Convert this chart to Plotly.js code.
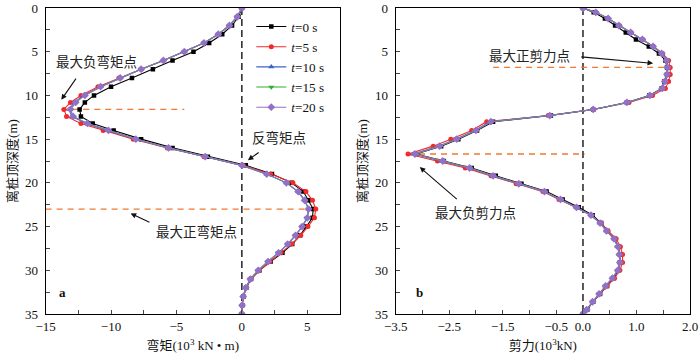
<!DOCTYPE html>
<html>
<head>
<meta charset="utf-8">
<script src="https://cdn.plot.ly/plotly-3.0.1.min.js"></script>
<style>html,body{margin:0;padding:0;background:#fff}#plot{width:700px;height:358px}</style>
</head>
<body>
<div id="plot"></div>
<script>
// panel a: bending moment (10^3 kN*m) along the pile
var depthA = [0, 1, 2, 3, 4, 5, 6, 7, 8, 9, 10, 10.8, 11.6, 12.4, 13.2, 14, 15, 16, 17, 18,
  19, 20, 21, 22, 23, 24, 25, 26, 27, 28, 29, 30, 31, 32, 33, 34, 35];
var moment0 = [0, -0.25, -0.75, -1.5, -2.5, -3.7, -5.3, -6.8, -8.4, -10.0, -11.3, -12.0, -12.4, -12.3, -11.4, -9.8, -7.7, -5.3, -2.6, 0.3,
  2.3, 3.8, 4.7, 5.1, 5.45, 5.4, 4.9, 4.45, 3.85, 3.1, 2.2, 1.35, 0.7, 0.33, 0.12, 0.03, 0];
var moment5 = [0, -0.35, -0.95, -1.8, -2.9, -4.4, -6.0, -7.7, -9.4, -11.0, -12.3, -13.1, -13.6, -13.4, -12.3, -10.6, -8.3, -5.7, -2.9, 0.1,
  2.2, 3.9, 4.9, 5.4, 5.65, 5.55, 5.05, 4.5, 3.8, 3.0, 2.15, 1.35, 0.7, 0.33, 0.12, 0.03, 0];
var moment10 = [0, -0.35, -0.95, -1.8, -2.9, -4.4, -6.0, -7.7, -9.3, -10.8, -12.1, -12.8, -13.2, -13.0, -11.9, -10.3, -8.1, -5.6, -2.8, 0.0,
  1.9, 3.4, 4.3, 4.8, 5.1, 5.0, 4.6, 4.1, 3.5, 2.8, 2.0, 1.25, 0.65, 0.3, 0.1, 0.02, 0];
var moment15 = [0, -0.35, -0.95, -1.8, -2.9, -4.4, -6.0, -7.7, -9.3, -10.8, -12.0, -12.7, -13.1, -12.9, -11.8, -10.2, -8.1, -5.6, -2.8, 0.0,
  1.9, 3.4, 4.3, 4.8, 5.1, 5.0, 4.6, 4.1, 3.5, 2.8, 2.0, 1.25, 0.65, 0.3, 0.1, 0.02, 0];
var moment20 = [0, -0.35, -0.95, -1.8, -2.9, -4.4, -6.0, -7.7, -9.3, -10.8, -12.0, -12.7, -13.1, -12.9, -11.8, -10.2, -8.1, -5.6, -2.8, 0.0,
  1.9, 3.4, 4.3, 4.8, 5.1, 5.0, 4.6, 4.1, 3.5, 2.8, 2.0, 1.25, 0.65, 0.3, 0.1, 0.02, 0];

// panel b: shear force (10^3 kN) along the pile
var depthB = [0, 0.5, 1.2, 2, 2.8, 3.6, 4.4, 5.2, 6, 6.8, 7.6, 8.4, 9.2, 10, 10.8, 11.6, 12.3, 13, 14, 15,
  15.8, 16.7, 17.5, 18.3, 19.2, 20.1, 21, 21.9, 22.8, 23.7, 24.6, 25.5, 26.4, 27.3, 28.2, 29.1, 30, 30.9, 31.8, 32.7,
  33.6, 34.5, 35];
var shear0 = [0, 0.2, 0.41, 0.6, 0.8, 0.99, 1.23, 1.42, 1.54, 1.57, 1.57, 1.52, 1.47, 1.24, 0.82, 0.19, -0.6, -1.68, -1.98, -2.33,
  -2.65, -3.12, -2.6, -2.08, -1.63, -1.15, -0.68, -0.38, -0.08, 0.18, 0.34, 0.46, 0.59, 0.66, 0.69, 0.69, 0.66, 0.57, 0.45, 0.32,
  0.19, 0.08, 0];
var shear5 = [0, 0.24, 0.47, 0.68, 0.9, 1.12, 1.32, 1.49, 1.6, 1.63, 1.63, 1.6, 1.54, 1.3, 0.86, 0.2, -0.65, -1.8, -2.08, -2.47,
  -2.8, -3.27, -2.72, -2.2, -1.72, -1.25, -0.75, -0.45, -0.13, 0.15, 0.34, 0.47, 0.62, 0.7, 0.74, 0.74, 0.69, 0.59, 0.45, 0.31,
  0.18, 0.07, 0];
var shear10 = [0, 0.24, 0.47, 0.67, 0.89, 1.11, 1.31, 1.47, 1.57, 1.59, 1.58, 1.54, 1.48, 1.26, 0.83, 0.19, -0.63, -1.74, -2.02, -2.38,
  -2.7, -3.17, -2.64, -2.13, -1.69, -1.21, -0.72, -0.42, -0.12, 0.15, 0.32, 0.44, 0.58, 0.65, 0.68, 0.69, 0.65, 0.55, 0.42, 0.3,
  0.18, 0.07, 0];
var shear15 = [0, 0.24, 0.47, 0.67, 0.89, 1.11, 1.31, 1.47, 1.56, 1.58, 1.57, 1.53, 1.48, 1.25, 0.82, 0.19, -0.62, -1.72, -2.0, -2.36,
  -2.68, -3.14, -2.62, -2.12, -1.68, -1.2, -0.72, -0.42, -0.12, 0.15, 0.32, 0.44, 0.58, 0.65, 0.68, 0.69, 0.65, 0.55, 0.42, 0.3,
  0.18, 0.07, 0];
var shear20 = [0, 0.24, 0.47, 0.67, 0.89, 1.11, 1.31, 1.47, 1.56, 1.58, 1.57, 1.53, 1.48, 1.25, 0.82, 0.19, -0.62, -1.72, -2.0, -2.36,
  -2.68, -3.14, -2.62, -2.12, -1.68, -1.2, -0.72, -0.42, -0.12, 0.15, 0.32, 0.44, 0.58, 0.65, 0.68, 0.69, 0.65, 0.55, 0.42, 0.3,
  0.18, 0.07, 0];

var seriesNames = ['<i>t</i>=0 s', '<i>t</i>=5 s', '<i>t</i>=10 s', '<i>t</i>=15 s', '<i>t</i>=20 s'];

// axis ticks
var depthTicks = [0, 2.5, 5, 7.5, 10, 12.5, 15, 17.5, 20, 22.5, 25, 27.5, 30, 32.5, 35];
var depthLabels = ['0', '', '5', '', '10', '', '15', '', '20', '', '25', '', '30', '', '35'];
var momentTicks = [-15, -12.5, -10, -7.5, -5, -2.5, 0, 2.5, 5, 7.5];
var momentLabels = ['\u221215', '', '\u221210', '', '\u22125', '', '0', '', '5', ''];
var shearTicks = [-3.5, -3, -2.5, -2, -1.5, -1, -0.5, 0, 0.5, 1, 1.5, 2];
var shearLabels = ['\u22123.5', '', '\u22122.5', '', '\u22121.5', '', '\u22120.5', '0.0', '', '1.0', '', '2.0'];

var pileEnds = [0, 35];
var zeroPair = [0, 0];

var styles = [
  {color: '#000000', symbol: 'square', size: 4.5},
  {color: '#f42a2a', symbol: 'circle', size: 5},
  {color: '#3f63c8', symbol: 'triangle-up', size: 5.5},
  {color: '#2fb02f', symbol: 'triangle-down', size: 5.5},
  {color: '#9370c8', symbol: 'diamond', size: 6}
];

var serif = "'Liberation Serif', 'Times New Roman', 'Noto Sans CJK SC', serif";

// depth of the peak of a series (used for the orange guide lines)
function peakDepth(depths, vals, useMax) {
  var k = 0;
  for (var i = 1; i < vals.length; i++) {
    if (useMax ? vals[i] > vals[k] : vals[i] < vals[k]) k = i;
  }
  return depths[k];
}

var traces = [];
var moments = [moment0, moment5, moment10, moment15, moment20];
var shears = [shear0, shear5, shear10, shear15, shear20];

// dashed zero lines
traces.push({x: zeroPair, y: pileEnds, mode: 'lines', xaxis: 'x', yaxis: 'y', showlegend: false,
  line: {color: '#000', width: 1.3, dash: '7px,4px'}, hoverinfo: 'skip'});
traces.push({x: zeroPair, y: pileEnds, mode: 'lines', xaxis: 'x2', yaxis: 'y2', showlegend: false,
  line: {color: '#000', width: 1.3, dash: '7px,4px'}, hoverinfo: 'skip'});

// orange guide lines at the peaks of the t=5 s curves
var dNegM = peakDepth(depthA, moment5, false);
var dPosM = peakDepth(depthA, moment5, true);
var dPosV = peakDepth(depthB, shear5, true);
var dNegV = peakDepth(depthB, shear5, false);
var orange = {color: '#f07a30', width: 1.3, dash: '6px,5px'};
traces.push({x: [-13.8, -4.4], y: [dNegM, dNegM], mode: 'lines', xaxis: 'x', yaxis: 'y', showlegend: false, line: orange});
traces.push({x: [-15, 5.5], y: [dPosM, dPosM], mode: 'lines', xaxis: 'x', yaxis: 'y', showlegend: false, line: orange});
traces.push({x: [-1.68, 1.6], y: [dPosV, dPosV], mode: 'lines', xaxis: 'x2', yaxis: 'y2', showlegend: false, line: orange});
traces.push({x: [-3.27, 0.03], y: [dNegV, dNegV], mode: 'lines', xaxis: 'x2', yaxis: 'y2', showlegend: false, line: orange});

for (var s = 0; s < 5; s++) {
  var st = styles[s];
  traces.push({
    x: moments[s], y: depthA, name: seriesNames[s], mode: 'lines+markers', xaxis: 'x', yaxis: 'y',
    line: {color: st.color, width: 1.1}, marker: {color: st.color, symbol: st.symbol, size: st.size}
  });
  traces.push({
    x: shears[s], y: depthB, name: seriesNames[s], mode: 'lines+markers', xaxis: 'x2', yaxis: 'y2', showlegend: false,
    line: {color: st.color, width: 1.1}, marker: {color: st.color, symbol: st.symbol, size: st.size}
  });
}

function depthAxis(anchor) {
  return {
    anchor: anchor, domain: [1 - 314 / 358, 1 - 8 / 358], range: [35, 0], autorange: false,
    tickmode: 'array', tickvals: depthTicks, ticktext: depthLabels, ticks: 'inside', ticklen: 4,
    ticklabelstandoff: 4,
    showgrid: false, zeroline: false, showline: true, mirror: true, linecolor: '#000', linewidth: 1,
    title: {text: '离桩顶深度(m)', font: {size: 13}, standoff: 4}
  };
}

var layout = {
  width: 700, height: 358,
  margin: {l: 0, r: 0, t: 0, b: 0},
  paper_bgcolor: '#fff', plot_bgcolor: '#fff',
  font: {family: serif, size: 13, color: '#111'},
  showlegend: true,
  legend: {x: 0.359, y: 0.968, xanchor: 'left', yanchor: 'top', bgcolor: 'rgba(0,0,0,0)',
    font: {size: 13.2}, tracegroupgap: 0},
  xaxis: {
    anchor: 'y', domain: [45.6 / 700, 340 / 700], range: [-15, 7.5], autorange: false,
    tickmode: 'array', tickvals: momentTicks, ticktext: momentLabels, ticks: 'inside', ticklen: 4,
    showgrid: false, zeroline: false, showline: true, mirror: true, linecolor: '#000', linewidth: 1,
    title: {text: '弯矩(10<sup>3</sup> kN • m)', font: {size: 13}, standoff: 8}
  },
  yaxis: depthAxis('x'),
  xaxis2: {
    anchor: 'y2', domain: [395.7 / 700, 690 / 700], range: [-3.5, 2], autorange: false,
    tickmode: 'array', tickvals: shearTicks, ticktext: shearLabels, ticks: 'inside', ticklen: 4,
    showgrid: false, zeroline: false, showline: true, mirror: true, linecolor: '#000', linewidth: 1,
    title: {text: '剪力(10<sup>3</sup>kN)', font: {size: 13}, standoff: 8}
  },
  yaxis2: depthAxis('x2'),
  annotations: [
    {xref: 'x', yref: 'y', x: -11.1, y: 6.2, text: '最大负弯矩点', showarrow: false, font: {size: 13.5, color: '#222'}},
    {xref: 'x', yref: 'y', x: -13.8, y: 10.5, axref: 'x', ayref: 'y', ax: -12.6, ay: 7.9, text: '',
      showarrow: true, arrowhead: 2, arrowsize: 1, arrowwidth: 1.1, arrowcolor: '#111'},
    {xref: 'x', yref: 'y', x: 2.85, y: 14.9, text: '反弯矩点', showarrow: false, font: {size: 13.5, color: '#222'}},
    {xref: 'x', yref: 'y', x: 0.46, y: 17.4, axref: 'x', ayref: 'y', ax: 1.4, ay: 16.4, text: '',
      showarrow: true, arrowhead: 2, arrowsize: 1, arrowwidth: 1.1, arrowcolor: '#111'},
    {xref: 'x', yref: 'y', x: -3.5, y: 25.6, text: '最大正弯矩点', showarrow: false, font: {size: 13.5, color: '#222'}},
    {xref: 'x', yref: 'y', x: -8.5, y: 23.5, axref: 'x', ayref: 'y', ax: -6.95, ay: 24.6, text: '',
      showarrow: true, arrowhead: 2, arrowsize: 1, arrowwidth: 1.1, arrowcolor: '#111'},
    {xref: 'x', yref: 'y', x: -13.7, y: 32.5, text: '<b>a</b>', showarrow: false, font: {size: 13, color: '#111'}},
    {xref: 'x2', yref: 'y2', x: -1.0, y: 5.6, text: '最大正剪力点', showarrow: false, font: {size: 13.5, color: '#222'}},
    {xref: 'x2', yref: 'y2', x: 1.31, y: 6.33, axref: 'x2', ayref: 'y2', ax: -0.06, ay: 5.57, text: '',
      showarrow: true, arrowhead: 2, arrowsize: 1, arrowwidth: 1.1, arrowcolor: '#111'},
    {xref: 'x2', yref: 'y2', x: -2.0, y: 23.5, text: '最大负剪力点', showarrow: false, font: {size: 13.5, color: '#222'}},
    {xref: 'x2', yref: 'y2', x: -3.05, y: 18.2, axref: 'x2', ayref: 'y2', ax: -2.33, ay: 22.0, text: '',
      showarrow: true, arrowhead: 2, arrowsize: 1, arrowwidth: 1.1, arrowcolor: '#111'},
    {xref: 'x2', yref: 'y2', x: -3.05, y: 32.5, text: '<b>b</b>', showarrow: false, font: {size: 13, color: '#111'}}
  ]
};

Plotly.newPlot('plot', traces, layout, {staticPlot: true});
</script>
</body>
</html>
